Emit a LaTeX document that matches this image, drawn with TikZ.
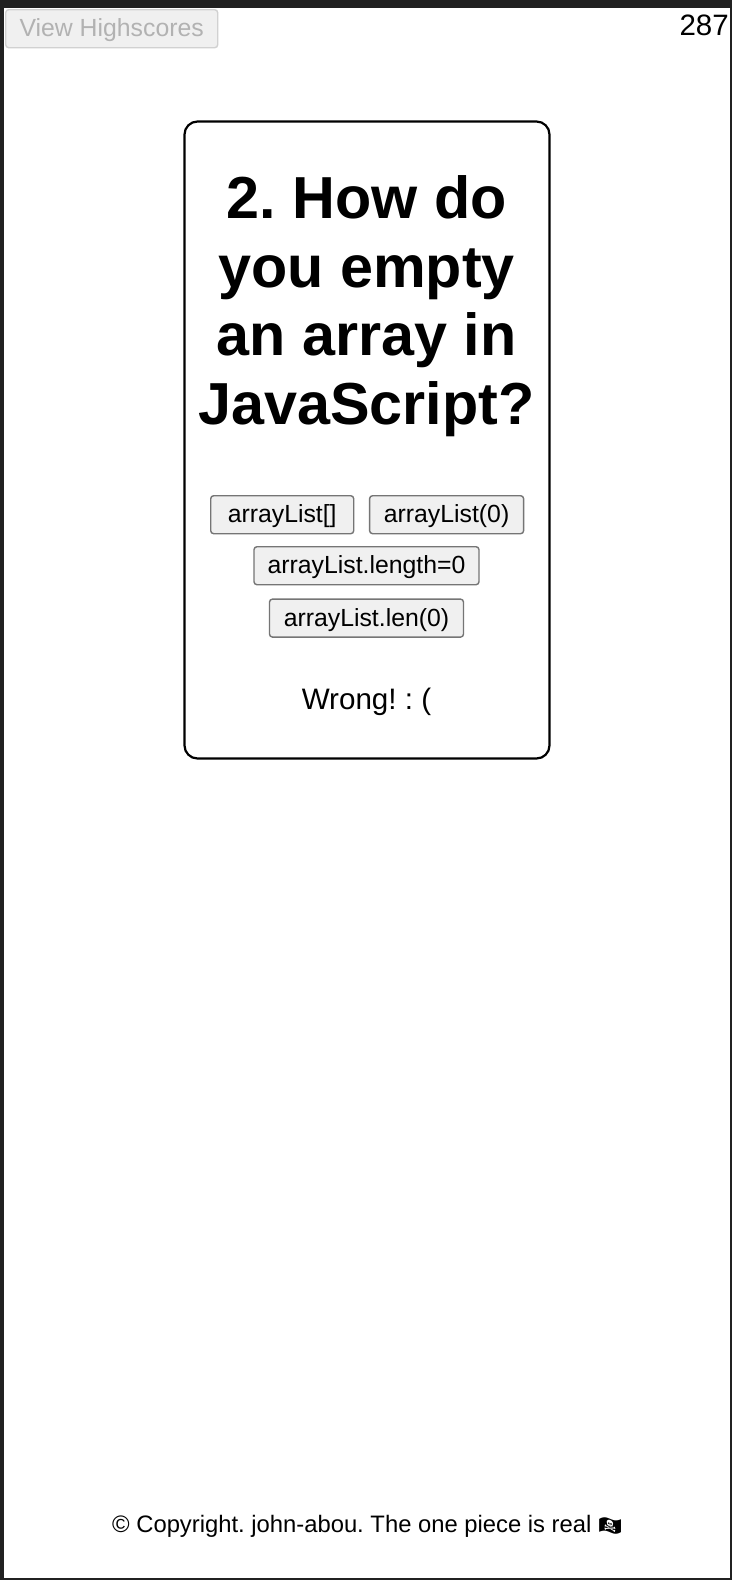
\documentclass[tikz,border=0pt]{standalone}
\usepackage{fontspec}
\setmainfont{Liberation Sans}
\newfontfamily\emojifont[Renderer=HarfBuzz]{Noto Emoji}
\usetikzlibrary{positioning}
\frenchspacing

\begin{document}
\begin{tikzpicture}[
  x=1pt, y=1pt,
  choice/.style={draw=black!54, line width=1.4pt, rounded corners=3pt, fill=black!6, inner sep=0pt,
              minimum height=38pt, text height=20pt, text depth=4pt, font=\fontsize{24.8}{28}\selectfont},
  disabled/.style={choice, draw=black!18, text=black!30},
  card/.style={draw, line width=2.2pt, rounded corners=13pt, minimum width=365pt, minimum height=637pt, inner sep=0pt}
]
\useasboundingbox (0,0) rectangle (732,-1580);
% frame of the window, then the page
\fill[black!87] (0,0) rectangle (732,-1580);
\node[fill=white, inner sep=0pt, minimum width=726pt, minimum height=1570pt, anchor=north west] (page) at (4,-8) {};

% top row: button and counter
\node[disabled, minimum width=212pt, anchor=north west] (highscores) at (5,-9) {View Highscores};
\node[anchor=north east, inner sep=0pt, font=\fontsize{29.5}{33}\selectfont] (timer) at (729,-15) {287};

% card, question and answers
\node[card] (quiz) at (367,-440) {};
\node[align=center, inner sep=0pt, font=\fontsize{59.3}{68.6}\selectfont\bfseries] (question) at (366.5,-306)
  {2. How do\\ you empty\\ an array in\\ JavaScript?};
\node[choice, minimum width=143pt, anchor=north west] (listbrackets) at (210,-495) {arrayList[]};
\node[choice, minimum width=154pt, right=15pt of listbrackets, xshift=-0.5pt] (listzero) {arrayList(0)};
\node[choice, minimum width=225pt, anchor=north] (listlength) at (366.5,-546) {arrayList.length=0};
\node[choice, minimum width=194pt, below=13pt of listlength] (listlen) {arrayList.len(0)};
\node[inner sep=0pt, font=\fontsize{29.6}{33}\selectfont, below=50pt of listlen] (result) {Wrong! : (};

% footer
\node[inner sep=0pt, anchor=west, font=\fontsize{23.8}{28}\selectfont] (footer) at (112,-1526)
  {© Copyright. john-abou. The one piece is real {\emojifont\fontsize{19}{24}\selectfont 🏴‍☠️}};
\end{tikzpicture}
\end{document}
